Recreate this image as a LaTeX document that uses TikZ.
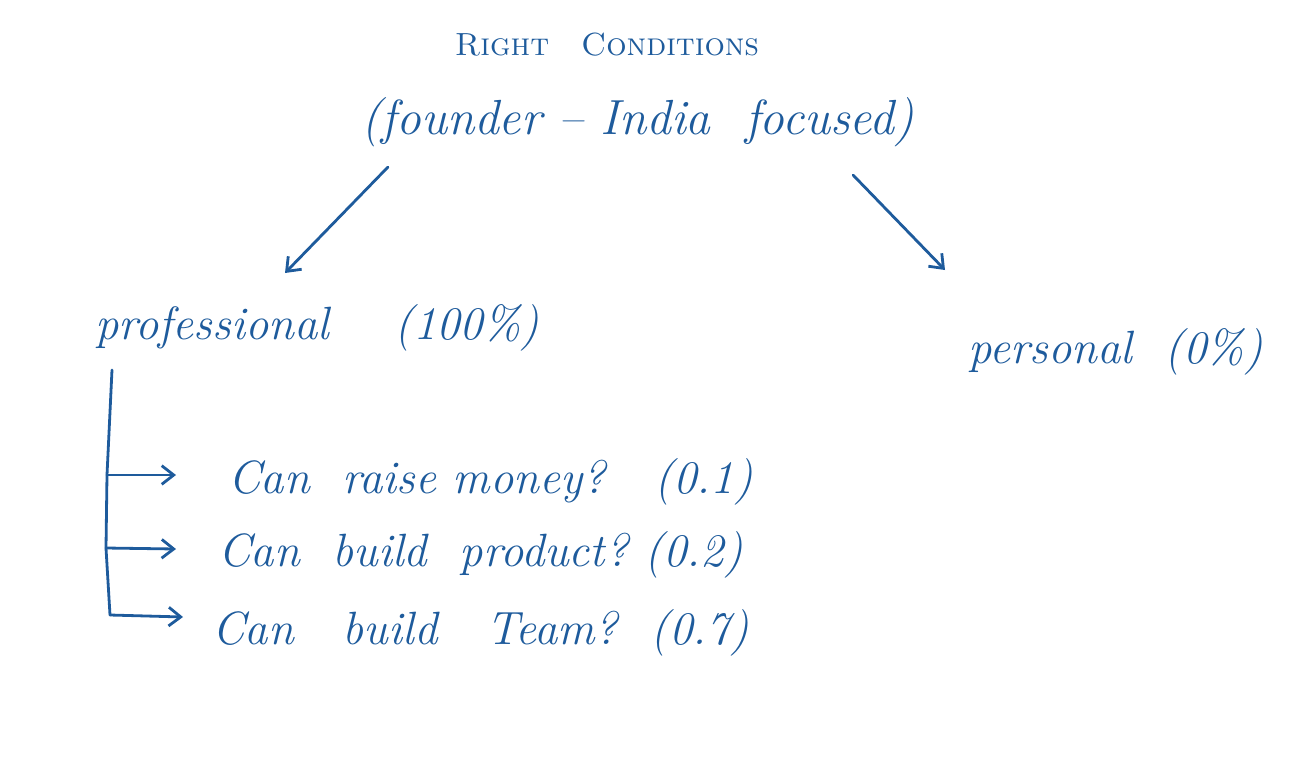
\documentclass[tikz,border=0pt]{standalone}
\usetikzlibrary{arrows.meta}
\definecolor{ink}{HTML}{1E5B9C}
\begin{document}
\begin{tikzpicture}[x=0.75pt,y=-0.75pt,
  txt/.style={text=ink, inner sep=0pt, anchor=west, font=\fontsize{35}{40}\selectfont\itshape},
  pen/.style={draw=ink, line width=2.1pt, line cap=round, line join=round},
  tip/.style={-{Straight Barb[length=9pt,width=14pt,line width=2.1pt]}}]
\useasboundingbox (0,0) rectangle (1295,779);
\node[txt, anchor=center, font=\fontsize{24}{28}\selectfont\scshape] (title) at (607,45) {Right\quad Conditions};
\node[txt, anchor=center, font=\fontsize{37}{42}\selectfont\itshape] (sub) at (638,122) {(founder -- India\ \ focused)};
\node[txt] (prof) at (95,328) {professional\ \ \ \ (100\%)};
\node[txt] (pers) at (968,352) {personal\ \ (0\%)};
\node[txt] (q1) at (228,482) {Can\ \ raise money?\ \ \ (0.1)};
\node[txt] (q2) at (218,555) {Can\ \ build\ \ product?\ (0.2)};
\node[txt] (q3) at (212,633) {Can\ \ \ build\ \ \ Team?\ \ (0.7)};
\coordinate (a1s) at (388,167);
\coordinate (a1e) at (285,273);
\coordinate (a2s) at (853,175);
\coordinate (a2e) at (945,270);
\draw[pen,tip] (a1s) -- (a1e);
\draw[pen,tip] (a2s) -- (a2e);
\coordinate (top) at (112,370);
\coordinate (b1) at (107,475);
\coordinate (b2) at (106,548);
\coordinate (b3) at (110,615);
\coordinate (e1) at (176,475);
\coordinate (e2) at (176,549);
\coordinate (e3) at (183,617);
\draw[pen] (top) -- (b1) -- (b2) -- (b3);
\draw[pen,tip] (b1) -- (e1);
\draw[pen,tip] (b2) -- (e2);
\draw[pen,tip] (b3) -- (e3);
\end{tikzpicture}
\end{document}
